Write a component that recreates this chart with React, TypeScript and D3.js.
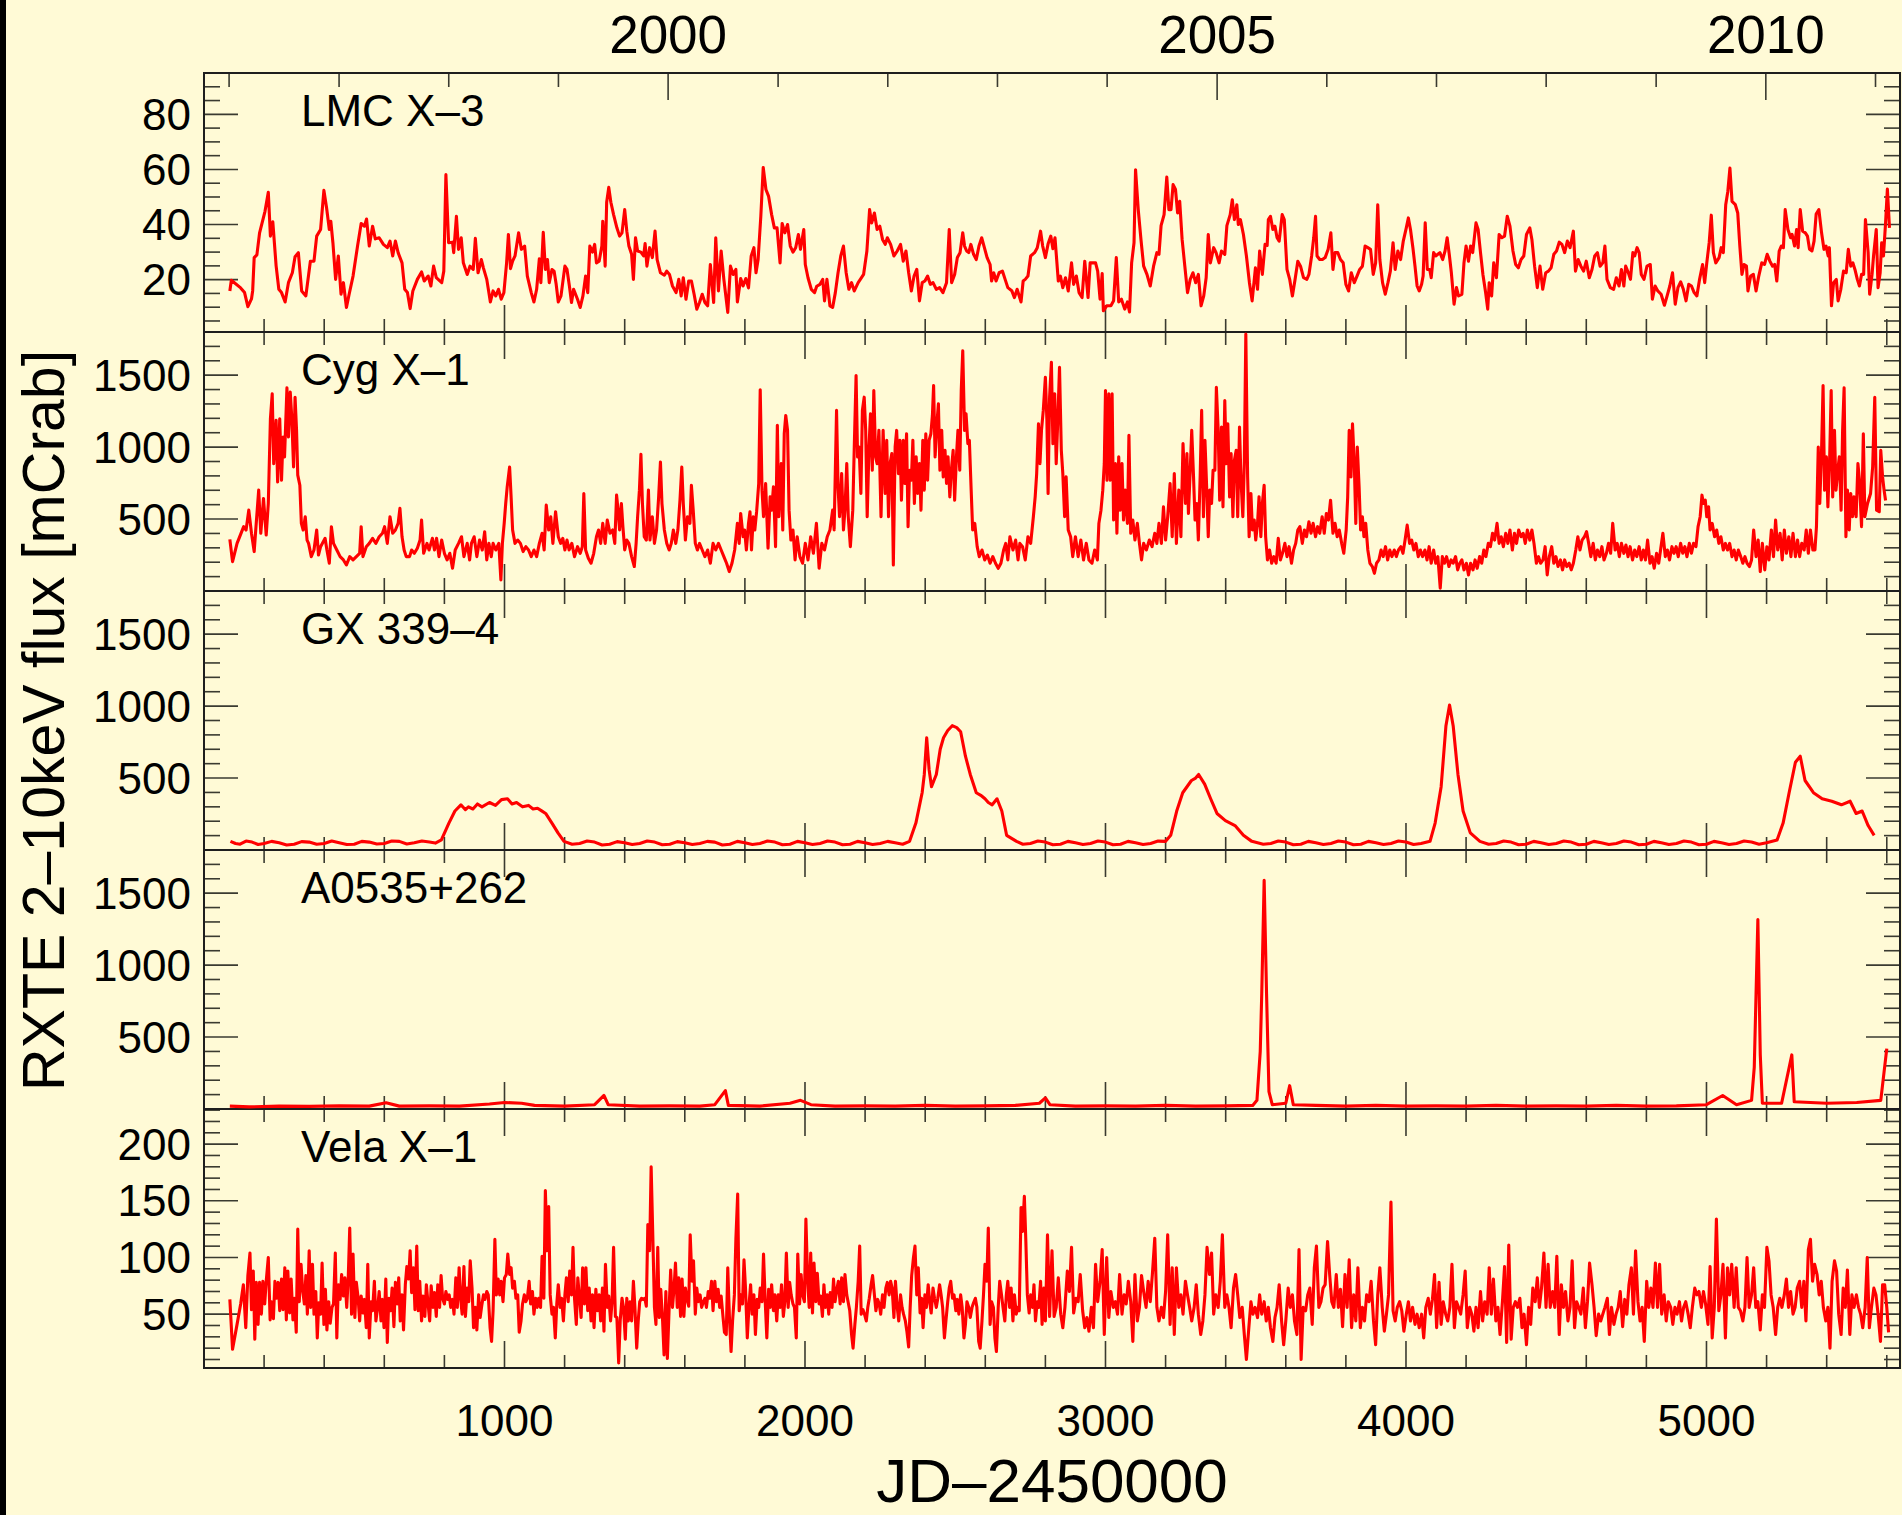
import React from 'react';
import * as d3 from 'd3';

// ---------------- data (JD-2450000, flux) ----------------
const JD_DOMAIN = [0, 5644];
const YEAR_TICK_JD = [83.5, 449.5, 814.5, 1179.5, 1544.5, 1910.5, 2275.5, 2640.5, 3005.5, 3371.5, 3736.5, 4101.5, 4466.5, 4832.5, 5197.5, 5562.5];
const YEAR_TICK_YEAR = [1996, 1997, 1998, 1999, 2000, 2001, 2002, 2003, 2004, 2005, 2006, 2007, 2008, 2009, 2010, 2011];
const YEAR_LABELS = [2000, 2005, 2010];
const JD_LABELS = [1000, 2000, 3000, 4000, 5000];
const SOURCE_NAMES = ['LMC X\u20133', 'Cyg X\u20131', 'GX 339\u20134', 'A0535+262', 'Vela X\u20131'];
const Y_DOMAINS = [[1, 95], [0, 1800], [0, 1800], [0, 1800], [2.5, 231]];
const Y_MAJOR = [[20, 40, 60, 80], [500, 1000, 1500], [500, 1000, 1500], [500, 1000, 1500], [50, 100, 150, 200]];
const Y_MINOR_STEP = [5, 100, 100, 100, 10];

const LMC_X3 = [86,15.9, 91,19.8, 122,17, 135,15.3, 146,10.2, 158,13, 162,16, 167,28, 176,29, 185,37, 203,44.8, 214,51.7, 221,35.8, 229,41, 240,25, 249,16.5, 258,15.3, 270,11.9, 281,18.9, 294,22.5, 303,28.3, 314,29.8, 325,15.9, 339,14.1, 354,26.7, 366,26.7, 375,35.8, 388,38.2, 399,52.4, 408,46, 417,38.2, 422,41.2, 429,33.4, 438,20.1, 447,28.6, 456,14.7, 464,18.9, 474,9.9, 483,14.7, 496,21.3, 511,32.2, 523,40.4, 534,39.4, 541,42, 550,32.2, 561,39.4, 570,34.8, 583,35.2, 597,32.8, 610,31.6, 619,34, 628,28.6, 637,34, 646,29.8, 659,26.1, 668,16.5, 677,15.3, 686,9.5, 695,15.9, 710,20.1, 724,22.8, 733,19.5, 746,21.3, 755,17.7, 764,24.9, 773,20.7, 791,18.9, 798,23.1, 805,58.1, 814,33.4, 827,33.6, 831,29.8, 840,43, 847,31, 856,35.2, 863,26.1, 876,21.9, 885,24.9, 896,23.7, 903,35, 912,22.5, 923,27.3, 930,24.2, 941,20.1, 953,11.9, 962,15.9, 971,14.1, 980,16.5, 989,12.9, 998,15.3, 1007,26.1, 1013,36.4, 1020,24, 1027,26.7, 1035,28.6, 1047,37, 1056,31, 1067,32.2, 1076,21.3, 1089,15.3, 1098,11.9, 1107,16.5, 1116,27.6, 1121,18.9, 1129,37.2, 1136,23.7, 1143,27.3, 1149,18.9, 1158,23.7, 1165,23.1, 1172,18.3, 1179,11.9, 1188,14.1, 1201,24.9, 1208,23.7, 1216,17.7, 1223,11.7, 1230,16.5, 1243,12.9, 1252,9.9, 1261,14.1, 1270,21.3, 1277,15.3, 1284,32.2, 1293,30, 1300,32.8, 1306,26.1, 1315,26.7, 1324,32.2, 1327,41.2, 1335,24.9, 1340,48.1, 1347,53.5, 1354,48.1, 1363,43.6, 1374,38.8, 1383,35.8, 1391,37, 1400,45.4, 1407,37.6, 1414,32.2, 1423,29.2, 1429,20.1, 1436,35.2, 1443,30.4, 1454,30, 1463,28.6, 1468,33.1, 1474,24.9, 1483,31.6, 1492,28, 1501,37.6, 1508,27.3, 1519,22.5, 1532,21.6, 1540,23.1, 1549,21.9, 1559,17.7, 1571,15.3, 1580,20.1, 1588,14.1, 1595,20.7, 1604,12.9, 1613,19.5, 1622,19.5, 1631,14.7, 1640,9.3, 1649,11.7, 1658,14.7, 1667,11.7, 1676,10.5, 1685,25.5, 1696,11.7, 1703,35.2, 1712,15.9, 1721,30.4, 1730,20.1, 1743,8.1, 1752,24.9, 1761,21.9, 1770,23.7, 1775,11.9, 1786,20.4, 1794,17.7, 1803,20.4, 1812,17, 1821,28.6, 1830,31.6, 1837,22.5, 1844,27.3, 1853,43, 1861,60.7, 1870,52.7, 1879,50.2, 1889,43.6, 1898,38.8, 1907,38.8, 1917,26.1, 1924,40.4, 1933,37, 1942,40, 1951,32.2, 1960,30, 1969,31.6, 1978,36.4, 1985,31, 1996,38.2, 2001,25.5, 2010,20.7, 2021,16.5, 2032,15.3, 2039,17.6, 2050,18.3, 2059,20.1, 2065,12.3, 2073,20.1, 2083,10.5, 2092,9.9, 2101,15.3, 2110,22.5, 2119,28.6, 2128,32.2, 2137,22.5, 2146,16.5, 2155,18.9, 2164,15.9, 2177,18.9, 2188,20.7, 2195,21.9, 2206,30.4, 2215,45.4, 2222,40.6, 2231,44.2, 2240,38.2, 2249,39.4, 2258,34.6, 2267,32.8, 2274,35.2, 2285,32.8, 2296,28.6, 2307,30.4, 2318,32.8, 2327,26.7, 2336,30.4, 2345,22.5, 2354,15.9, 2363,21.3, 2372,23.7, 2381,12.3, 2390,18.9, 2399,19.5, 2408,21.3, 2417,18.3, 2426,18.9, 2437,16.5, 2448,17.1, 2459,15.3, 2471,18.9, 2480,38.2, 2488,18.9, 2498,21.9, 2507,28, 2516,29.8, 2525,37, 2531,32.2, 2538,30.4, 2545,29.8, 2552,32.8, 2561,29.2, 2570,27.3, 2579,32.2, 2588,35.2, 2597,31.6, 2606,28, 2616,25.5, 2621,19.5, 2628,22.5, 2636,19.5, 2646,22.5, 2657,23.1, 2666,20.1, 2675,17.1, 2688,16, 2697,13.5, 2706,16.5, 2719,11.9, 2726,19.5, 2733,20.1, 2742,21.3, 2751,28.6, 2764,29.8, 2773,31.6, 2784,37.6, 2791,32.2, 2800,28, 2809,33, 2818,35.8, 2825,31.2, 2832,35.2, 2843,19.5, 2850,21.3, 2858,17.1, 2867,20.7, 2876,15.9, 2887,26.1, 2894,18.3, 2903,21.3, 2912,15.3, 2922,13.5, 2931,26.7, 2942,13.5, 2949,26.1, 2960,26.1, 2967,26.1, 2974,23.1, 2982,12.9, 2989,22.2, 2993,8.7, 3004,10.5, 3018,10.5, 3027,12.3, 3036,28, 3044,11.9, 3053,12.9, 3064,9.3, 3073,11.9, 3080,8.3, 3087,26.1, 3095,33.4, 3100,59.9, 3109,45.4, 3118,34.6, 3127,24.9, 3138,21.9, 3149,17.7, 3160,24.9, 3171,29.8, 3178,29.2, 3185,39.6, 3195,43.6, 3204,57.2, 3211,45.4, 3218,45.4, 3225,54.5, 3233,52.7, 3240,44.2, 3247,48.4, 3255,34.6, 3264,24.9, 3273,15.3, 3282,20.1, 3291,22.5, 3300,18.9, 3309,21.9, 3318,10.5, 3327,14.1, 3335,20.7, 3342,36.4, 3349,26.1, 3360,31.6, 3368,29.8, 3378,26.1, 3386,30.4, 3397,29.2, 3404,39.6, 3415,43.6, 3422,49, 3429,41.8, 3437,47.2, 3442,40, 3449,41.8, 3459,36.4, 3469,28.6, 3479,18.9, 3488,12.3, 3499,24.3, 3506,16.5, 3513,30.4, 3522,21.9, 3531,32.8, 3538,32.4, 3542,41.8, 3549,43, 3557,38.2, 3564,39.4, 3571,35.2, 3578,34, 3588,43.6, 3595,41.8, 3604,23.7, 3613,20.1, 3622,14.1, 3631,20.1, 3640,26.7, 3649,24.9, 3659,20.7, 3670,20.1, 3677,21.9, 3686,28.6, 3693,35.2, 3699,43, 3704,28.6, 3713,27.3, 3722,27.3, 3731,28, 3741,31, 3750,37, 3757,23.7, 3764,29.8, 3773,29.8, 3782,27.3, 3791,26.1, 3800,18.3, 3809,15.9, 3818,22.5, 3828,18.9, 3837,21.3, 3846,23.7, 3855,24.9, 3864,32.2, 3873,31.6, 3882,31, 3891,21.9, 3899,26.1, 3906,47.2, 3913,27.3, 3922,18.9, 3931,14.7, 3940,18.9, 3948,23.1, 3957,33.4, 3964,23.7, 3973,30.4, 3982,27.3, 3991,34, 4001,38.8, 4008,42.4, 4015,38.2, 4023,31.6, 4030,24.9, 4037,17.7, 4044,15.9, 4052,18.3, 4057,21.3, 4064,40.6, 4071,23.7, 4079,23.7, 4084,20.7, 4092,29.8, 4099,28.6, 4106,29.2, 4113,29.8, 4122,27.3, 4130,30.4, 4137,35.2, 4144,29.2, 4151,22.5, 4160,11.1, 4168,17.1, 4175,14.1, 4186,14.7, 4193,26.1, 4200,32.2, 4208,26.7, 4215,32.2, 4222,29.8, 4233,40.6, 4240,38.2, 4248,29.8, 4256,21.9, 4265,15.3, 4272,9.3, 4277,18.9, 4285,14.1, 4292,26.1, 4301,20.7, 4310,36.4, 4319,35.2, 4328,35.8, 4337,43, 4346,39.4, 4356,30.4, 4365,25.5, 4374,24.3, 4383,27.3, 4392,28.6, 4401,36.4, 4412,38.8, 4419,34.6, 4428,24.9, 4437,17.1, 4446,24.9, 4455,16.5, 4465,22.5, 4474,23.1, 4483,24.3, 4492,29.2, 4501,30.4, 4510,33.6, 4519,32.8, 4528,29.8, 4537,34, 4546,31.6, 4557,37.6, 4564,23.1, 4573,27.3, 4582,24.9, 4591,23.1, 4600,26.7, 4610,20.7, 4619,23.7, 4628,28.6, 4637,29.8, 4646,24.9, 4655,26.1, 4662,32.2, 4669,20.1, 4680,17.1, 4691,16.5, 4700,20.7, 4709,17.7, 4717,23.7, 4725,17.7, 4731,24.9, 4740,22.5, 4747,20.1, 4755,29.8, 4761,28.6, 4769,31.6, 4776,29.8, 4783,21.9, 4792,20.1, 4802,24.9, 4813,25.5, 4820,12.9, 4829,17.7, 4838,15.9, 4849,14.7, 4860,10.7, 4869,14.1, 4878,17.7, 4887,22.5, 4896,11.1, 4905,17.1, 4914,19.2, 4923,16.5, 4932,12.3, 4941,18.3, 4950,17.7, 4959,15.3, 4968,14.1, 4977,20.1, 4987,25.5, 4994,18.9, 5001,26.1, 5009,33.4, 5016,43.4, 5023,29.8, 5031,26.1, 5042,28, 5049,31.6, 5056,29.8, 5064,47.2, 5071,52, 5078,60.5, 5085,48.4, 5096,47.2, 5104,44.2, 5111,32.2, 5118,21.9, 5125,25.5, 5133,24.9, 5138,15.9, 5147,21.3, 5156,21.9, 5165,15.9, 5174,21.3, 5184,26.1, 5193,25.5, 5202,29.2, 5211,26.7, 5220,24.9, 5227,25.5, 5234,19.5, 5242,30.4, 5249,32.2, 5256,31.6, 5262,45.4, 5271,38.2, 5280,35.2, 5285,36.4, 5293,32.2, 5300,38.2, 5305,31.6, 5312,45.4, 5320,37.6, 5329,37, 5336,35.8, 5343,31, 5351,30.4, 5358,34, 5365,43.8, 5374,45.4, 5383,37, 5391,31, 5398,32.2, 5405,28.6, 5409,31.6, 5416,10.5, 5423,18.9, 5432,20.1, 5438,12.3, 5447,16.5, 5456,23.1, 5465,22.5, 5472,31, 5480,24.9, 5487,26.1, 5494,23.7, 5502,20.1, 5509,17.7, 5516,21.9, 5523,21.9, 5529,41.8, 5538,29.8, 5543,14.7, 5551,21.9, 5556,28.6, 5565,38.2, 5571,17.1, 5578,22.5, 5583,33.4, 5589,28.6, 5596,40.6, 5602,52.9, 5609,38.8];

const CYG_X1 = [86,359, 95,204, 110,331, 132,447, 140,424, 149,562, 158,401, 167,274, 173,447, 182,701, 189,401, 198,643, 207,389, 214,608, 221,1197, 227,1370, 232,885, 240,1186, 245,758, 252,1197, 258,770, 263,1070, 268,932, 276,1412, 281,1070, 287,1382, 292,1209, 298,862, 303,1347, 308,1116, 312,805, 319,735, 324,470, 330,424, 337,516, 343,354, 348,331, 357,239, 366,285, 375,424, 381,250, 388,308, 403,366, 409,285, 417,193, 424,447, 431,331, 442,285, 453,239, 464,216, 474,181, 485,239, 496,216, 507,239, 518,262, 523,447, 529,239, 540,308, 550,331, 561,366, 572,331, 583,377, 594,401, 601,447, 610,331, 619,516, 628,401, 637,424, 646,470, 652,574, 659,377, 666,285, 673,239, 684,239, 691,285, 700,262, 710,297, 719,354, 724,493, 731,262, 742,331, 749,285, 760,366, 767,285, 774,366, 782,239, 791,354, 800,262, 809,216, 818,262, 827,158, 836,285, 847,331, 857,377, 865,239, 876,331, 884,216, 890,331, 899,377, 908,239, 917,354, 926,285, 934,412, 941,216, 948,331, 956,239, 962,331, 971,285, 981,331, 988,77, 993,331, 999,470, 1004,608, 1009,724, 1017,862, 1022,654, 1027,424, 1035,331, 1044,354, 1053,331, 1062,274, 1071,308, 1080,285, 1089,239, 1098,285, 1107,239, 1116,331, 1125,401, 1132,285, 1139,597, 1147,424, 1154,516, 1161,331, 1170,551, 1179,377, 1187,331, 1194,366, 1201,285, 1208,354, 1215,285, 1224,331, 1233,239, 1243,308, 1252,262, 1259,308, 1264,678, 1270,285, 1279,227, 1288,193, 1297,262, 1306,377, 1313,424, 1320,331, 1327,470, 1335,331, 1342,493, 1351,401, 1360,424, 1367,331, 1373,666, 1378,562, 1383,424, 1389,608, 1394,447, 1400,285, 1407,354, 1414,331, 1423,239, 1432,170, 1438,331, 1443,516, 1449,701, 1454,950, 1459,608, 1465,377, 1472,354, 1479,701, 1484,354, 1492,516, 1499,331, 1506,424, 1513,654, 1519,897, 1524,608, 1532,424, 1540,331, 1548,285, 1555,331, 1562,424, 1570,331, 1577,424, 1584,631, 1590,862, 1595,608, 1602,354, 1609,516, 1617,470, 1622,735, 1628,562, 1635,331, 1642,285, 1649,331, 1658,285, 1667,239, 1676,285, 1685,193, 1694,331, 1703,285, 1712,331, 1721,285, 1730,239, 1739,193, 1748,135, 1757,193, 1766,285, 1775,470, 1781,331, 1786,539, 1794,377, 1799,424, 1805,285, 1812,470, 1817,551, 1822,285, 1828,516, 1833,424, 1839,551, 1846,747, 1851,1398, 1857,701, 1862,516, 1869,747, 1877,297, 1884,654, 1889,562, 1895,724, 1902,308, 1908,1151, 1913,516, 1921,885, 1926,424, 1931,1093, 1936,1220, 1942,1116, 1947,562, 1953,354, 1960,424, 1967,216, 1974,377, 1983,239, 1992,193, 2001,331, 2010,216, 2019,377, 2028,262, 2038,470, 2047,158, 2056,331, 2065,285, 2074,377, 2083,424, 2092,562, 2097,424, 2105,1255, 2110,724, 2115,516, 2122,816, 2128,424, 2133,562, 2139,885, 2144,516, 2151,308, 2159,562, 2164,1001, 2170,1497, 2175,932, 2180,1001, 2186,678, 2191,1255, 2197,1347, 2202,1116, 2207,516, 2213,1001, 2218,1232, 2224,839, 2229,1393, 2235,932, 2240,885, 2246,1116, 2253,516, 2260,1116, 2267,678, 2272,1047, 2278,516, 2283,885, 2289,955, 2294,181, 2300,1001, 2305,1116, 2311,816, 2316,1047, 2321,631, 2327,1047, 2332,747, 2338,1093, 2343,447, 2348,839, 2354,770, 2359,1047, 2364,608, 2370,932, 2375,678, 2381,885, 2386,562, 2392,1047, 2397,701, 2402,1093, 2408,770, 2413,1047, 2419,1093, 2424,1220, 2428,1428, 2433,932, 2438,1139, 2444,1301, 2449,839, 2455,1116, 2460,793, 2466,978, 2471,747, 2476,932, 2482,654, 2487,839, 2493,978, 2498,631, 2504,932, 2509,1116, 2515,839, 2520,1393, 2525,1670, 2531,1116, 2536,1232, 2542,1024, 2547,1047, 2553,701, 2558,424, 2565,470, 2573,308, 2580,239, 2589,285, 2598,216, 2607,250, 2616,193, 2625,239, 2634,193, 2643,158, 2652,193, 2661,285, 2668,331, 2675,216, 2682,377, 2692,285, 2701,354, 2709,216, 2715,331, 2724,308, 2733,216, 2742,377, 2751,331, 2760,516, 2766,654, 2771,816, 2777,1162, 2782,885, 2787,1116, 2793,1255, 2800,1486, 2805,1186, 2809,678, 2814,1347, 2820,1590, 2825,1024, 2831,1370, 2836,885, 2842,1232, 2847,1555, 2853,978, 2858,816, 2864,516, 2869,793, 2876,424, 2884,377, 2891,239, 2900,377, 2909,239, 2918,354, 2927,216, 2936,331, 2945,216, 2955,193, 2964,285, 2973,216, 2978,470, 2985,562, 2991,701, 2996,885, 3000,1393, 3005,770, 3011,1370, 3016,770, 3022,1370, 3027,493, 3033,885, 3038,401, 3044,932, 3049,562, 3055,885, 3060,493, 3066,701, 3073,470, 3078,1082, 3084,401, 3091,493, 3098,354, 3106,470, 3113,331, 3120,216, 3127,331, 3136,285, 3146,354, 3155,308, 3164,401, 3171,331, 3178,470, 3186,331, 3193,585, 3200,354, 3207,516, 3215,747, 3222,377, 3229,816, 3236,331, 3244,701, 3251,377, 3258,1024, 3266,608, 3271,955, 3276,539, 3282,839, 3287,1116, 3293,793, 3298,493, 3304,608, 3309,354, 3315,793, 3320,1255, 3326,516, 3331,1047, 3337,701, 3342,377, 3347,701, 3353,608, 3358,839, 3364,839, 3369,1416, 3375,1116, 3380,631, 3386,1139, 3391,585, 3397,1324, 3402,885, 3407,1162, 3413,654, 3418,955, 3424,516, 3429,909, 3435,978, 3440,516, 3446,1139, 3451,770, 3457,516, 3462,885, 3467,1786, 3473,793, 3478,377, 3484,678, 3489,424, 3495,493, 3500,354, 3506,470, 3511,654, 3517,377, 3522,608, 3528,735, 3533,377, 3539,216, 3546,285, 3553,193, 3560,239, 3568,193, 3575,366, 3582,216, 3589,262, 3597,331, 3604,239, 3611,308, 3619,193, 3626,285, 3633,331, 3640,424, 3647,447, 3655,331, 3662,424, 3669,377, 3677,481, 3684,401, 3691,470, 3699,377, 3706,447, 3713,401, 3721,516, 3728,401, 3735,539, 3742,493, 3749,631, 3757,401, 3764,470, 3771,377, 3778,424, 3786,331, 3793,262, 3801,424, 3806,654, 3811,1116, 3817,793, 3822,1162, 3828,885, 3833,470, 3838,1001, 3844,724, 3849,424, 3855,516, 3860,377, 3866,470, 3873,285, 3880,193, 3888,170, 3895,123, 3902,193, 3910,216, 3917,285, 3924,239, 3932,308, 3939,216, 3946,285, 3953,239, 3961,285, 3968,239, 3975,285, 3983,308, 3990,262, 3997,354, 4004,458, 4012,331, 4019,354, 4026,285, 4033,331, 4041,239, 4048,285, 4055,239, 4063,285, 4070,216, 4077,308, 4084,193, 4092,285, 4099,193, 4106,239, 4114,20, 4121,239, 4128,193, 4135,239, 4143,170, 4150,216, 4157,193, 4165,239, 4172,147, 4179,193, 4186,216, 4193,147, 4201,193, 4208,112, 4215,193, 4223,147, 4230,216, 4237,158, 4245,239, 4252,193, 4259,285, 4266,239, 4274,331, 4281,308, 4288,401, 4295,354, 4303,470, 4310,331, 4317,377, 4324,308, 4332,401, 4339,331, 4346,424, 4354,285, 4361,401, 4368,331, 4375,424, 4383,377, 4390,401, 4397,331, 4404,424, 4412,354, 4419,424, 4426,331, 4434,193, 4441,239, 4448,193, 4456,216, 4463,308, 4470,112, 4477,239, 4485,308, 4492,193, 4499,239, 4506,170, 4514,216, 4521,147, 4528,216, 4535,170, 4543,193, 4550,147, 4557,193, 4565,285, 4572,377, 4579,285, 4586,354, 4594,377, 4601,412, 4608,331, 4615,239, 4623,331, 4630,216, 4637,285, 4645,239, 4652,308, 4659,216, 4667,262, 4674,331, 4681,262, 4688,470, 4696,285, 4703,331, 4710,239, 4717,331, 4725,262, 4732,320, 4739,239, 4746,308, 4754,216, 4761,285, 4768,239, 4776,308, 4783,216, 4790,285, 4797,216, 4804,354, 4812,193, 4819,239, 4826,158, 4834,262, 4841,193, 4848,297, 4855,401, 4863,239, 4870,285, 4877,216, 4885,308, 4892,262, 4899,308, 4906,239, 4914,331, 4921,262, 4928,308, 4935,239, 4943,331, 4950,262, 4957,331, 4965,308, 4972,447, 4979,516, 4985,666, 4990,608, 4996,631, 5001,516, 5007,585, 5012,424, 5019,470, 5027,377, 5034,424, 5041,331, 5048,377, 5056,285, 5063,331, 5070,285, 5077,331, 5085,239, 5092,285, 5099,216, 5106,285, 5114,239, 5121,193, 5128,239, 5135,193, 5143,170, 5150,216, 5157,424, 5165,239, 5172,354, 5179,135, 5186,331, 5194,147, 5201,308, 5208,216, 5216,424, 5223,239, 5230,493, 5237,285, 5245,401, 5252,216, 5259,424, 5266,262, 5274,377, 5281,239, 5288,401, 5296,239, 5303,354, 5310,239, 5317,331, 5325,285, 5332,424, 5339,262, 5346,424, 5354,285, 5361,285, 5366,447, 5372,1001, 5377,608, 5383,978, 5388,1428, 5393,701, 5399,932, 5404,585, 5410,932, 5415,1393, 5420,654, 5426,1116, 5431,701, 5437,839, 5442,932, 5448,562, 5453,1116, 5458,1412, 5464,377, 5469,701, 5475,424, 5480,678, 5486,516, 5491,654, 5498,516, 5504,885, 5509,770, 5516,447, 5522,1093, 5527,516, 5536,608, 5546,678, 5553,862, 5560,1347, 5566,562, 5575,551, 5580,978, 5586,793, 5591,701, 5596,629];

const GX_339_4 = [88,60, 105,45, 120,40, 140,62, 160,55, 180,38, 200,45, 225,60, 250,50, 275,35, 300,40, 325,58, 350,55, 375,40, 400,45, 425,62, 450,50, 475,38, 500,40, 525,60, 550,55, 575,42, 600,45, 625,63, 650,60, 675,42, 700,50, 725,62, 750,55, 770,48, 790,70, 815,187, 835,271, 855,314, 870,280, 880,300, 895,285, 910,320, 925,300, 950,330, 970,310, 990,350, 1010,356, 1025,320, 1040,330, 1060,300, 1080,310, 1095,285, 1110,290, 1125,270, 1137,254, 1160,180, 1178,119, 1198,60, 1225,40, 1250,45, 1275,62, 1300,55, 1325,35, 1350,40, 1375,58, 1400,50, 1425,38, 1450,45, 1475,62, 1500,55, 1525,36, 1550,40, 1575,58, 1600,50, 1625,38, 1650,45, 1675,60, 1700,55, 1725,35, 1750,40, 1775,60, 1800,50, 1825,38, 1850,45, 1875,62, 1900,55, 1925,36, 1950,40, 1975,60, 2000,50, 2025,38, 2050,45, 2075,62, 2100,55, 2125,36, 2150,40, 2175,60, 2200,50, 2225,38, 2250,45, 2275,60, 2300,50, 2325,40, 2348,60, 2369,187, 2390,400, 2397,525, 2405,780, 2413,560, 2421,440, 2437,525, 2450,700, 2461,780, 2475,830, 2490,864, 2505,850, 2518,822, 2534,652, 2550,525, 2570,398, 2585,380, 2599,356, 2610,330, 2623,314, 2639,356, 2655,271, 2671,102, 2704,60, 2725,40, 2750,45, 2775,62, 2800,55, 2825,36, 2850,40, 2875,60, 2900,50, 2925,38, 2950,45, 2975,62, 3000,55, 3025,36, 3050,40, 3075,60, 3100,50, 3125,38, 3150,45, 3175,62, 3200,60, 3217,102, 3237,271, 3257,398, 3286,483, 3300,500, 3310,525, 3330,458, 3350,356, 3371,254, 3399,204, 3431,170, 3459,102, 3487,60, 3525,40, 3550,45, 3575,62, 3600,55, 3625,36, 3650,40, 3675,60, 3700,50, 3725,38, 3750,45, 3775,62, 3800,55, 3825,36, 3850,40, 3875,60, 3900,50, 3925,38, 3950,45, 3975,62, 4000,55, 4025,38, 4050,45, 4080,60, 4097,187, 4117,440, 4133,864, 4145,1008, 4157,864, 4173,525, 4190,271, 4214,119, 4246,60, 4275,40, 4300,45, 4325,62, 4350,55, 4375,36, 4400,40, 4425,60, 4450,50, 4475,38, 4500,45, 4525,62, 4550,55, 4575,36, 4600,40, 4625,60, 4650,50, 4675,38, 4700,45, 4725,62, 4750,55, 4775,36, 4800,40, 4825,60, 4850,50, 4875,38, 4900,45, 4925,62, 4950,55, 4975,36, 5000,40, 5025,60, 5050,50, 5075,38, 5100,45, 5125,62, 5150,55, 5175,40, 5200,50, 5235,70, 5255,187, 5275,398, 5296,610, 5312,652, 5328,483, 5356,398, 5385,356, 5417,339, 5449,314, 5478,339, 5498,254, 5518,271, 5538,170, 5558,102];

const A0535_262 = [86,20, 150,15, 250,20, 350,18, 450,22, 550,20, 606,43, 650,20, 750,22, 850,20, 950,35, 1000,45, 1057,40, 1100,25, 1200,20, 1300,30, 1331,94, 1345,30, 1450,20, 1550,22, 1650,20, 1700,30, 1735,128, 1745,25, 1850,20, 1950,40, 1985,60, 2020,30, 2100,20, 2200,22, 2300,20, 2400,25, 2500,20, 2600,22, 2700,25, 2780,40, 2800,77, 2815,30, 2900,20, 3000,22, 3100,20, 3200,25, 3300,20, 3400,22, 3490,25, 3504,60, 3515,400, 3520,800, 3528,1590, 3536,800, 3544,120, 3555,30, 3600,40, 3613,162, 3625,30, 3700,25, 3800,20, 3900,25, 4000,20, 4100,22, 4200,20, 4300,25, 4400,20, 4500,22, 4600,20, 4700,25, 4800,20, 4900,22, 5000,30, 5054,94, 5100,30, 5150,60, 5159,290, 5171,1317, 5179,376, 5186,40, 5250,40, 5284,376, 5292,50, 5400,40, 5500,45, 5580,60, 5600,420];

const VELA_X1 = [86,63, 95,19, 110,41, 122,59, 131,76, 139,38, 146,84, 153,104, 158,54, 164,88, 169,28, 174,78, 180,41, 185,78, 191,50, 196,79, 202,59, 207,79, 214,100, 220,45, 225,61, 231,46, 236,79, 241,64, 247,78, 252,53, 258,81, 263,54, 269,91, 274,45, 279,88, 285,51, 290,81, 296,45, 301,64, 307,34, 312,125, 317,61, 323,94, 328,72, 334,59, 339,84, 344,50, 350,106, 355,56, 361,94, 366,50, 372,70, 377,29, 382,60, 388,50, 393,95, 399,41, 404,72, 409,36, 415,61, 420,42, 426,56, 431,59, 437,104, 442,29, 447,76, 453,63, 458,85, 464,66, 469,82, 475,56, 480,82, 485,126, 491,50, 496,103, 502,47, 507,78, 513,64, 518,44, 523,66, 529,51, 534,63, 540,38, 545,94, 550,29, 556,61, 561,53, 567,79, 572,44, 578,56, 583,70, 589,44, 594,63, 599,38, 605,81, 610,25, 615,64, 621,53, 626,73, 632,39, 637,78, 643,59, 648,82, 653,44, 659,67, 664,36, 670,76, 675,92, 681,81, 686,106, 691,69, 697,91, 702,54, 708,110, 713,53, 718,79, 724,44, 729,66, 735,48, 740,76, 745,61, 751,44, 756,75, 762,56, 767,69, 773,48, 778,76, 784,56, 789,84, 794,64, 800,59, 805,70, 811,63, 816,67, 821,56, 827,63, 832,50, 838,82, 843,56, 849,91, 854,64, 859,50, 865,92, 870,48, 876,73, 881,61, 886,97, 892,73, 897,38, 903,56, 908,36, 914,67, 919,47, 924,57, 930,67, 935,63, 941,70, 946,67, 952,38, 957,26, 962,53, 968,116, 973,67, 979,81, 984,67, 989,79, 995,61, 1000,82, 1006,85, 1011,103, 1017,85, 1022,91, 1027,73, 1033,79, 1038,64, 1044,67, 1049,34, 1055,44, 1060,59, 1066,67, 1071,61, 1076,64, 1082,79, 1087,59, 1093,70, 1098,50, 1104,64, 1109,56, 1114,64, 1120,56, 1125,101, 1131,64, 1136,159, 1142,106, 1147,145, 1152,67, 1158,50, 1163,56, 1169,29, 1174,59, 1179,76, 1185,56, 1190,64, 1196,44, 1201,67, 1206,82, 1212,61, 1217,88, 1223,67, 1228,109, 1233,64, 1239,41, 1244,82, 1250,63, 1255,47, 1260,91, 1266,59, 1271,91, 1277,53, 1282,73, 1288,44, 1293,67, 1298,38, 1304,72, 1309,53, 1315,67, 1320,44, 1326,73, 1331,35, 1336,94, 1342,56, 1347,66, 1353,44, 1358,61, 1363,109, 1369,48, 1374,47, 1380,7, 1385,44, 1391,64, 1396,56, 1402,28, 1407,64, 1412,44, 1418,61, 1423,44, 1429,79, 1434,56, 1440,20, 1445,44, 1450,61, 1456,64, 1461,63, 1467,64, 1472,57, 1477,129, 1483,106, 1488,180, 1494,114, 1499,56, 1504,41, 1510,109, 1515,47, 1520,72, 1526,45, 1531,14, 1537,70, 1542,11, 1548,56, 1553,89, 1559,56, 1564,72, 1569,95, 1575,56, 1580,82, 1586,48, 1591,81, 1597,48, 1602,73, 1607,64, 1613,57, 1618,120, 1624,79, 1629,97, 1635,50, 1640,73, 1645,61, 1651,67, 1656,56, 1662,61, 1667,64, 1672,56, 1678,70, 1683,64, 1689,79, 1694,53, 1700,79, 1705,61, 1711,72, 1716,56, 1721,66, 1727,48, 1732,34, 1738,32, 1743,91, 1749,44, 1754,17, 1759,44, 1765,67, 1770,116, 1776,156, 1781,53, 1786,67, 1792,59, 1797,98, 1802,73, 1808,29, 1814,59, 1819,76, 1824,50, 1830,67, 1835,32, 1841,63, 1846,56, 1851,73, 1857,61, 1862,103, 1868,59, 1873,29, 1879,72, 1884,56, 1889,76, 1895,53, 1900,67, 1906,44, 1911,67, 1917,56, 1922,76, 1928,48, 1933,61, 1938,104, 1944,56, 1949,78, 1954,67, 1960,59, 1965,56, 1971,29, 1976,103, 1982,59, 1987,85, 1992,67, 1998,61, 2003,134, 2009,79, 2014,56, 2019,104, 2025,51, 2030,95, 2036,61, 2041,86, 2047,59, 2052,66, 2058,48, 2063,76, 2068,56, 2074,67, 2079,50, 2084,69, 2090,56, 2095,81, 2100,61, 2106,72, 2111,79, 2117,59, 2122,82, 2128,61, 2133,85, 2139,67, 2144,60, 2149,53, 2155,32, 2160,20, 2166,41, 2171,56, 2177,79, 2182,110, 2187,50, 2193,54, 2198,50, 2204,44, 2209,56, 2214,64, 2220,76, 2225,84, 2231,67, 2236,53, 2242,63, 2247,59, 2252,50, 2258,67, 2263,56, 2269,73, 2274,78, 2280,67, 2285,79, 2290,73, 2296,47, 2301,79, 2307,56, 2312,44, 2318,67, 2323,56, 2328,50, 2334,44, 2339,35, 2345,21, 2350,56, 2355,84, 2361,100, 2366,110, 2372,67, 2377,91, 2383,51, 2388,64, 2393,38, 2399,67, 2404,56, 2410,76, 2415,61, 2420,51, 2426,73, 2431,64, 2437,56, 2442,64, 2448,76, 2453,67, 2458,56, 2464,29, 2469,44, 2475,61, 2480,73, 2485,79, 2491,64, 2496,67, 2502,53, 2507,63, 2512,50, 2518,67, 2523,56, 2529,29, 2534,41, 2539,61, 2545,56, 2550,47, 2556,56, 2561,60, 2567,64, 2572,56, 2578,26, 2583,20, 2589,44, 2594,67, 2599,94, 2605,79, 2610,126, 2616,41, 2621,61, 2627,56, 2632,29, 2637,17, 2643,56, 2648,79, 2654,67, 2659,56, 2665,44, 2670,67, 2675,79, 2681,56, 2686,73, 2692,44, 2697,67, 2703,50, 2708,56, 2713,53, 2719,144, 2724,123, 2730,154, 2735,114, 2740,67, 2746,51, 2751,67, 2757,56, 2762,76, 2767,44, 2773,61, 2778,56, 2784,79, 2789,41, 2795,73, 2800,44, 2807,120, 2814,48, 2822,106, 2829,48, 2836,56, 2843,82, 2851,50, 2858,38, 2865,56, 2873,88, 2880,70, 2887,109, 2894,51, 2902,64, 2909,61, 2916,85, 2924,53, 2931,38, 2938,47, 2945,35, 2953,56, 2960,38, 2967,94, 2974,61, 2982,79, 2989,107, 2996,32, 3004,100, 3011,47, 3018,70, 3026,56, 3033,61, 3040,50, 3047,85, 3055,50, 3062,67, 3069,59, 3076,79, 3084,61, 3091,26, 3098,85, 3106,44, 3113,56, 3120,84, 3127,70, 3135,56, 3142,79, 3149,61, 3156,85, 3164,117, 3171,56, 3178,44, 3186,56, 3193,47, 3200,70, 3207,120, 3215,41, 3222,91, 3229,32, 3236,91, 3244,56, 3251,67, 3258,50, 3266,79, 3273,67, 3280,56, 3287,44, 3295,56, 3302,76, 3309,50, 3317,32, 3324,44, 3331,67, 3338,109, 3346,85, 3353,104, 3360,50, 3367,67, 3375,56, 3382,79, 3389,120, 3397,56, 3404,67, 3411,56, 3418,38, 3426,73, 3433,85, 3440,67, 3447,47, 3455,56, 3462,32, 3469,10, 3477,38, 3484,61, 3491,50, 3498,56, 3506,47, 3513,67, 3520,50, 3528,61, 3535,44, 3542,56, 3549,38, 3557,26, 3564,47, 3571,56, 3578,76, 3586,44, 3593,23, 3600,44, 3608,73, 3615,56, 3622,67, 3629,44, 3637,32, 3644,107, 3651,10, 3658,56, 3666,53, 3673,67, 3680,73, 3688,41, 3695,91, 3702,110, 3710,56, 3717,61, 3724,73, 3731,76, 3739,114, 3746,85, 3753,61, 3760,56, 3768,85, 3775,56, 3782,72, 3789,39, 3797,85, 3804,56, 3811,98, 3819,38, 3826,67, 3833,44, 3840,91, 3848,38, 3855,56, 3862,44, 3869,67, 3877,61, 3884,79, 3892,44, 3899,23, 3906,67, 3913,91, 3921,56, 3928,35, 3935,50, 3942,67, 3950,149, 3957,53, 3964,44, 3971,56, 3979,61, 3986,53, 3993,35, 4001,50, 4008,61, 4015,44, 4022,56, 4030,41, 4037,50, 4044,38, 4052,50, 4059,29, 4066,56, 4074,64, 4081,50, 4088,63, 4095,85, 4102,38, 4110,78, 4117,41, 4124,61, 4132,50, 4139,44, 4146,56, 4153,94, 4161,38, 4168,61, 4175,56, 4182,50, 4190,67, 4197,88, 4204,38, 4212,56, 4219,50, 4226,35, 4233,56, 4240,38, 4248,70, 4255,44, 4262,61, 4270,50, 4277,91, 4284,50, 4291,81, 4299,44, 4306,56, 4313,32, 4321,61, 4328,92, 4335,25, 4342,111, 4350,28, 4357,56, 4364,61, 4371,56, 4379,64, 4386,38, 4393,50, 4401,23, 4408,56, 4415,41, 4422,73, 4430,61, 4437,82, 4444,56, 4451,73, 4459,104, 4466,56, 4473,94, 4480,56, 4488,70, 4495,56, 4502,101, 4510,32, 4517,76, 4524,56, 4531,70, 4539,44, 4546,56, 4553,97, 4561,38, 4568,61, 4575,56, 4582,50, 4590,73, 4597,38, 4604,61, 4611,95, 4619,76, 4626,56, 4633,31, 4641,50, 4648,44, 4655,50, 4662,56, 4670,64, 4677,32, 4684,56, 4692,41, 4699,50, 4706,56, 4713,70, 4721,39, 4728,63, 4735,50, 4742,76, 4750,91, 4757,50, 4764,106, 4772,61, 4779,44, 4786,56, 4793,26, 4801,79, 4808,56, 4815,73, 4822,56, 4830,95, 4837,56, 4844,94, 4851,50, 4859,67, 4866,44, 4873,61, 4881,56, 4888,41, 4895,56, 4902,50, 4910,61, 4917,44, 4924,56, 4931,61, 4939,50, 4946,38, 4953,56, 4961,73, 4968,67, 4975,70, 4983,56, 4990,70, 4997,59, 5005,41, 5012,92, 5019,29, 5026,56, 5033,134, 5041,53, 5048,67, 5055,94, 5063,29, 5070,91, 5077,67, 5084,94, 5092,56, 5099,91, 5106,56, 5113,53, 5121,44, 5128,56, 5135,100, 5142,56, 5150,67, 5157,91, 5164,56, 5171,61, 5179,36, 5186,67, 5193,56, 5201,109, 5208,97, 5215,67, 5222,56, 5230,32, 5237,56, 5244,64, 5251,56, 5259,67, 5266,81, 5273,56, 5280,70, 5288,50, 5295,56, 5302,73, 5310,79, 5317,56, 5324,79, 5331,44, 5339,107, 5346,116, 5353,79, 5360,94, 5368,85, 5375,67, 5382,79, 5389,56, 5397,44, 5404,56, 5411,20, 5418,79, 5426,97, 5433,88, 5440,50, 5448,32, 5455,73, 5462,56, 5469,89, 5477,32, 5484,67, 5491,56, 5499,67, 5506,56, 5513,50, 5520,38, 5528,56, 5535,100, 5542,38, 5549,56, 5557,73, 5564,67, 5571,50, 5579,26, 5586,76, 5593,76, 5600,56, 5606,34];

const SERIES_FLAT = [LMC_X3, CYG_X1, GX_339_4, A0535_262, VELA_X1];

// ---------------- layout ----------------
const W = 1902, H = 1515;
const PLOT_L = 204, PLOT_R = 1900, PLOT_T = 73, PLOT_B = 1368;
const BG = '#fffad6';
const FONT = '"Liberation Sans", Arial, Helvetica, sans-serif';
const AXIS = '#1e1e1e';
const TICK = '#3a3a30';

function toPairs(a: number[]): [number, number][] {
  const out: [number, number][] = [];
  for (let i = 0; i + 1 < a.length; i += 2) out.push([a[i], a[i + 1]]);
  return out;
}

export default function App() {
  const nP = SOURCE_NAMES.length;
  const ph = (PLOT_B - PLOT_T) / nP;
  const x = d3.scaleLinear().domain(JD_DOMAIN).range([PLOT_L, PLOT_R]);
  const jdTicks = d3.range(0, JD_DOMAIN[1], 200);

  const panels = SOURCE_NAMES.map((name, i) => {
    const top = PLOT_T + i * ph;
    const bot = top + ph;
    const dom = Y_DOMAINS[i];
    const y = d3.scaleLinear().domain(dom).range([bot, top]);
    const step = Y_MINOR_STEP[i];
    const minor = d3.range(Math.ceil(dom[0] / step) * step, dom[1], step)
      .filter(v => !Y_MAJOR[i].some(m => Math.abs(m - v) < 1e-9));
    const line = d3.line<[number, number]>().x(d => x(d[0])).y(d => y(d[1]));
    const path = line(toPairs(SERIES_FLAT[i])) || '';
    return { name, i, top, bot, y, minor, path };
  });

  return (
    <svg width={W} height={H} viewBox={`0 0 ${W} ${H}`}
      style={{ position: 'absolute', left: 0, top: 0, display: 'block' }}
      fontFamily={FONT}>
      <rect x={0} y={0} width={W} height={H} fill={BG} />
      <rect x={0} y={0} width={6} height={H} fill="#000" />
      <defs>
        {panels.map(p => (
          <clipPath id={`clip${p.i}`} key={p.i}>
            <rect x={PLOT_L} y={p.top - 1} width={PLOT_R - PLOT_L} height={p.bot - p.top + 2} />
          </clipPath>
        ))}
      </defs>

      {panels.map(p => (
        <g key={p.i}>
          {Y_MAJOR[p.i].map(v => (
            <g key={'M' + v}>
              <line x1={PLOT_L} x2={PLOT_L + 34} y1={p.y(v)} y2={p.y(v)} stroke={TICK} strokeWidth={1.6} />
              <line x1={PLOT_R} x2={PLOT_R - 34} y1={p.y(v)} y2={p.y(v)} stroke={TICK} strokeWidth={1.6} />
              <text x={PLOT_L - 13} y={p.y(v) + 15.5} fontSize={44} textAnchor="end" fill="#000">{v}</text>
            </g>
          ))}
          {p.minor.map(v => (
            <g key={'m' + v}>
              <line x1={PLOT_L} x2={PLOT_L + 16} y1={p.y(v)} y2={p.y(v)} stroke={TICK} strokeWidth={1.6} />
              <line x1={PLOT_R} x2={PLOT_R - 16} y1={p.y(v)} y2={p.y(v)} stroke={TICK} strokeWidth={1.6} />
            </g>
          ))}
          {jdTicks.map(t => {
            const len = t % 1000 === 0 ? 27 : 13;
            return <line key={'b' + t} x1={x(t)} x2={x(t)} y1={p.bot} y2={p.bot - len} stroke={TICK} strokeWidth={1.6} />;
          })}
          {p.i === 0
            ? YEAR_TICK_JD.map((t, k) => {
                const len = YEAR_LABELS.includes(YEAR_TICK_YEAR[k]) ? 27 : 14;
                return <line key={'y' + t} x1={x(t)} x2={x(t)} y1={p.top} y2={p.top + len} stroke={TICK} strokeWidth={1.6} />;
              })
            : jdTicks.map(t => {
                const len = t % 1000 === 0 ? 27 : 13;
                return <line key={'t' + t} x1={x(t)} x2={x(t)} y1={p.top} y2={p.top + len} stroke={TICK} strokeWidth={1.6} />;
              })}
          <rect x={PLOT_L} y={p.top} width={PLOT_R - PLOT_L} height={p.bot - p.top} fill="none" stroke={AXIS} strokeWidth={2} />
          <text x={301} y={p.top + 53} fontSize={44} fill="#000">{p.name}</text>
        </g>
      ))}

      {panels.map(p => (
        <path key={'d' + p.i} d={p.path} fill="none" stroke="#ff0000" strokeWidth={3.1}
          strokeLinejoin="round" clipPath={`url(#clip${p.i})`} />
      ))}

      {YEAR_LABELS.map(yr => {
        const k = YEAR_TICK_YEAR.indexOf(yr);
        return <text key={yr} x={x(YEAR_TICK_JD[k])} y={53} fontSize={53} textAnchor="middle" fill="#000">{yr}</text>;
      })}
      {JD_LABELS.map(t => (
        <text key={t} x={x(t)} y={1436} fontSize={44} textAnchor="middle" fill="#000">{t}</text>
      ))}
      <text x={(PLOT_L + PLOT_R) / 2} y={1501.5} fontSize={62} textAnchor="middle" fill="#000">JD{'\u2013'}2450000</text>
      <text transform={`translate(64, ${(PLOT_T + PLOT_B) / 2}) rotate(-90)`} fontSize={59} textAnchor="middle" fill="#000">
        RXTE 2{'\u2013'}10keV flux [mCrab]
      </text>
    </svg>
  );
}
